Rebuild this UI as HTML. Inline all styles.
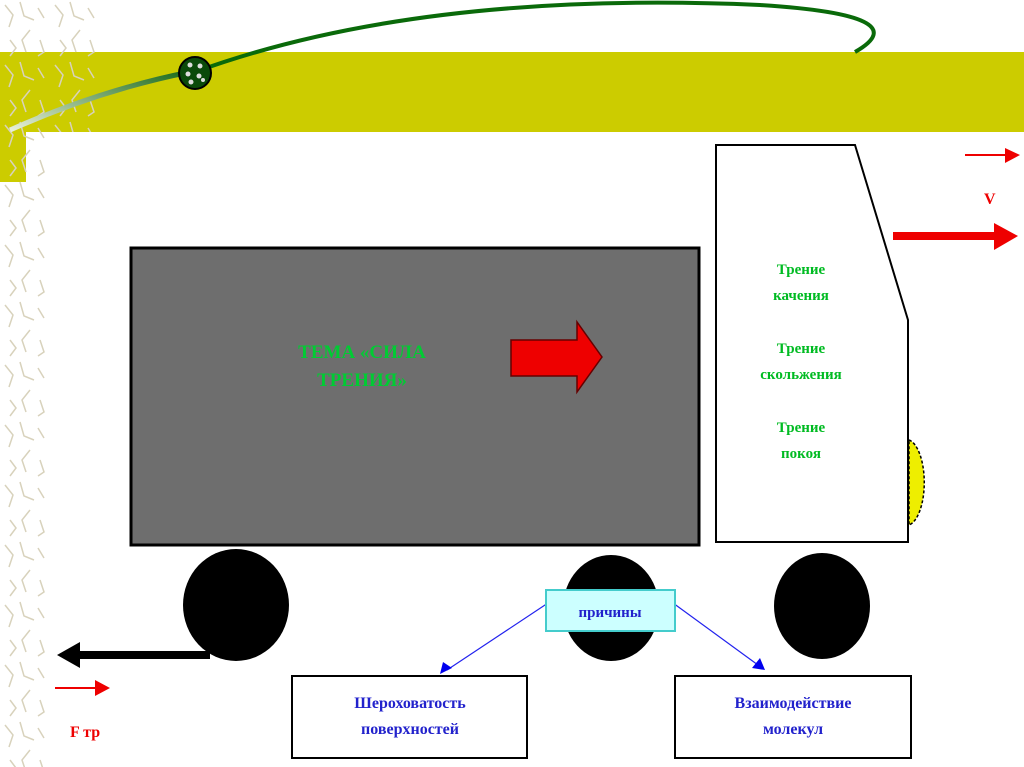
<!DOCTYPE html>
<html><head><meta charset="utf-8"><style>
html,body{margin:0;padding:0;background:#fff}
svg{display:block}
text{font-family:"Liberation Serif",serif;font-weight:bold}
</style></head><body>
<svg width="1024" height="767" viewBox="0 0 1024 767" xmlns="http://www.w3.org/2000/svg">
<defs>
<pattern id="pat" width="50" height="60" patternUnits="userSpaceOnUse">
<path d="M5 5 l8 10 l-4 12 M20 2 l4 14 l10 4 M30 30 l-8 10 l4 12 M10 40 l6 8 l-6 8 M38 8 l6 10 M40 40 l4 12 l-6 4" stroke="#d8d2bc" stroke-width="1.5" fill="none"/>
</pattern>
<linearGradient id="g" x1="0" y1="1" x2="1" y2="0"><stop offset="0" stop-color="#e8f0d8"/><stop offset="1" stop-color="#1a6a1a"/></linearGradient>
</defs>
<rect x="0" y="0" width="50" height="767" fill="#fff"/>
<rect x="0" y="52" width="1024" height="80" fill="#cccc00"/>
<rect x="0" y="52" width="26" height="130" fill="#cccc00"/>
<rect x="0" y="0" width="48" height="767" fill="url(#pat)"/>
<rect x="48" y="0" width="52" height="132" fill="url(#pat)"/>
<path d="M10 130 Q100 90 190 72" stroke="url(#g)" stroke-width="5" fill="none"/>
<path d="M195 72 Q420 -10 760 5 Q920 15 855 52" stroke="#0a6a0a" stroke-width="4" fill="none"/>
<ellipse cx="195" cy="73" rx="16" ry="16" fill="#0a4a0a" stroke="#000" stroke-width="2"/>
<g fill="#ddd"><circle cx="190" cy="65" r="2.5"/><circle cx="200" cy="66" r="2.5"/><circle cx="188" cy="74" r="2.5"/><circle cx="199" cy="76" r="2.5"/><circle cx="191" cy="82" r="2.5"/><circle cx="203" cy="80" r="2"/></g>
<!-- cargo -->
<rect x="131" y="248" width="568" height="297" fill="#6e6e6e" stroke="#000" stroke-width="3"/>
<text x="362" y="358" font-size="19" fill="#00cc33" text-anchor="middle">ТЕМА «СИЛА</text>
<text x="362" y="386" font-size="19" fill="#00cc33" text-anchor="middle">ТРЕНИЯ»</text>
<path d="M511 340 H577 V322 L602 357 L577 392 V376 H511 Z" fill="#ee0000" stroke="#600" stroke-width="1.5"/>
<!-- cab -->
<path d="M716 145 H855 L908 320 V542 H716 Z" fill="#fff" stroke="#000" stroke-width="2"/>
<path d="M909 440 A18 43 0 0 1 909 525 Z" fill="#eeee00" stroke="#000" stroke-width="1.5" stroke-dasharray="3 2"/>
<g fill="#00bb22" font-size="15" text-anchor="middle">
<text x="801" y="274">Трение</text><text x="801" y="300">качения</text>
<text x="801" y="353">Трение</text><text x="801" y="379">скольжения</text>
<text x="801" y="432">Трение</text><text x="801" y="458">покоя</text>
</g>
<!-- wheels -->
<ellipse cx="236" cy="605" rx="53" ry="56" fill="#000"/>
<ellipse cx="611" cy="608" rx="48" ry="53" fill="#000"/>
<ellipse cx="822" cy="606" rx="48" ry="53" fill="#000"/>
<!-- black arrow -->
<rect x="75" y="651" width="135" height="8" fill="#000"/>
<path d="M57 655 L80 642 V668 Z" fill="#000"/>
<!-- red arrows -->
<line x1="55" y1="688" x2="96" y2="688" stroke="#ee0000" stroke-width="2"/>
<path d="M95 680 L110 688 L95 696 Z" fill="#ee0000"/>
<text x="70" y="737" font-size="16" fill="#ee0000">F тр</text>
<line x1="965" y1="155" x2="1006" y2="155" stroke="#ee0000" stroke-width="2"/>
<path d="M1005 148 L1020 155 L1005 163 Z" fill="#ee0000"/>
<text x="984" y="204" font-size="16" fill="#ee0000">V</text>
<rect x="893" y="232" width="103" height="8" fill="#ee0000"/>
<path d="M994 223 L1018 236 L994 250 Z" fill="#ee0000"/>
<!-- causes -->
<line x1="548" y1="603" x2="447" y2="670" stroke="#2222ee" stroke-width="1.2"/>
<path d="M440 674 L443 662 L452 668 Z" fill="#0000ee"/>
<line x1="673" y1="603" x2="758" y2="665" stroke="#2222ee" stroke-width="1.2"/>
<path d="M765 670 L752 668 L760 658 Z" fill="#0000ee"/>
<rect x="546" y="590" width="129" height="41" fill="#ccffff" stroke="#44cccc" stroke-width="2"/>
<text x="610" y="617" font-size="15" fill="#2222cc" text-anchor="middle">причины</text>
<rect x="292" y="676" width="235" height="82" fill="#fff" stroke="#000" stroke-width="2"/>
<text x="410" y="708" font-size="16" fill="#2222cc" text-anchor="middle">Шероховатость</text>
<text x="410" y="734" font-size="16" fill="#2222cc" text-anchor="middle">поверхностей</text>
<rect x="675" y="676" width="236" height="82" fill="#fff" stroke="#000" stroke-width="2"/>
<text x="793" y="708" font-size="16" fill="#2222cc" text-anchor="middle">Взаимодействие</text>
<text x="793" y="734" font-size="16" fill="#2222cc" text-anchor="middle">молекул</text>
</svg>
</body></html>
